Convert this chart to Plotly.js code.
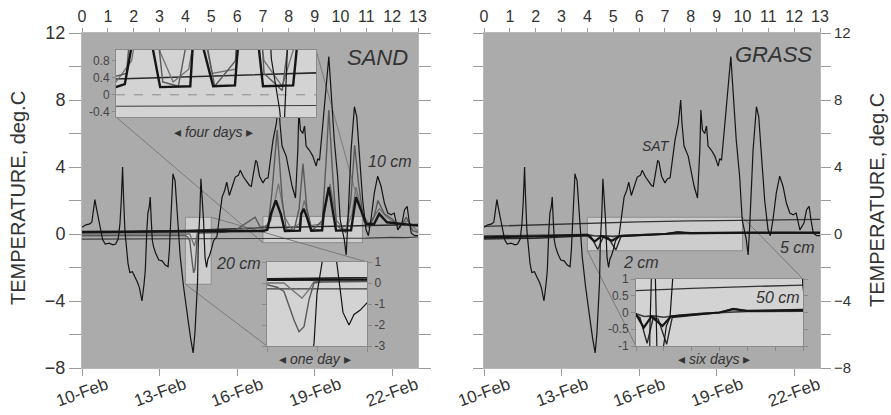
<!DOCTYPE html>
<html><head><meta charset="utf-8">
<script src="https://cdn.plot.ly/plotly-3.0.1.min.js"></script>
<style>html,body{margin:0;padding:0;background:#fff}#chart{width:891px;height:415px}</style>
</head><body><div id="chart"></div>
<script>
// ---------- data (day 0 = 10-Feb) ----------
const satDays = [0.00,0.15,0.30,0.38,0.45,0.50,0.55,0.62,0.72,0.80,0.90,1.05,1.20,1.30,1.40,1.47,1.52,1.57,1.60,1.66,1.78,1.85,1.95,2.05,2.15,2.22,2.32,2.40,2.45,2.51,2.55,2.60,2.64,2.68,2.72,2.77,2.85,2.97,3.10,3.22,3.33,3.38,3.46,3.52,3.55,3.60,3.67,3.80,3.93,4.02,4.10,4.20,4.30,4.37,4.42,4.47,4.50,4.56,4.60,4.64,4.70,4.76,4.82,4.87,4.93,5.00,5.09,5.22,5.31,5.42,5.52,5.60,5.70,5.80,5.93,6.05,6.12,6.25,6.40,6.48,6.55,6.62,6.72,6.77,6.87,7.00,7.10,7.20,7.30,7.39,7.52,7.61,7.66,7.74,7.90,8.03,8.13,8.26,8.35,8.39,8.45,8.54,8.61,8.67,8.80,8.93,9.06,9.12,9.19,9.32,9.45,9.55,9.60,9.66,9.76,9.89,9.99,10.15,10.22,10.28,10.41,10.54,10.63,10.73,10.86,10.99,11.08,11.18,11.31,11.44,11.57,11.70,11.83,11.96,12.08,12.22,12.38,12.48,12.58,12.65,12.74,12.87,13.00];
const satTemp = [0.40,0.55,0.60,0.70,1.50,2.05,1.60,1.10,0.30,-0.35,-0.60,-0.55,-0.65,-0.60,-0.30,0.65,2.00,4.00,2.50,0.20,-1.75,-2.30,-2.25,-2.55,-2.90,-3.20,-4.00,-3.00,-2.15,0.25,1.25,1.60,2.20,0.80,-0.36,-0.77,-1.15,-1.55,-1.60,-1.85,-1.95,-0.96,1.25,3.60,3.40,3.20,1.60,-1.35,-3.15,-4.30,-5.10,-6.20,-7.10,-5.90,-4.00,-2.90,-0.50,1.25,3.30,2.40,0.90,-1.40,-2.00,-1.50,-1.30,-0.95,-0.40,-0.15,0.83,2.20,2.60,3.10,2.30,2.75,3.40,3.50,3.80,3.40,3.05,2.90,2.85,3.60,4.40,4.30,3.45,3.05,3.30,3.35,4.40,5.60,6.60,8.00,6.60,5.25,4.65,3.65,2.85,2.15,5.00,7.40,6.20,6.00,6.45,5.25,5.00,4.65,4.05,4.50,4.40,6.60,9.00,10.60,9.40,8.00,5.60,3.45,0.85,-0.35,-1.25,0.47,5.00,7.60,7.00,4.80,2.00,0.25,-0.10,0.85,2.45,3.45,2.85,1.85,1.25,1.15,1.25,0.25,0.65,1.45,1.65,0.85,0.05,-0.10,-0.10];

// SAND soil temperatures
const sand2Days = [0,4.0,4.1,4.17,4.27,4.32,4.37,4.42,4.47,4.55,5.5,6.0,6.5,6.7,6.9,7.2,7.35,7.55,7.75,7.9,8.2,8.4,8.55,8.7,8.9,9.3,9.45,9.55,9.7,9.85,10.2,10.4,10.55,10.7,10.9,11.1,11.3,11.45,11.7,12.0,12.3,12.55,12.8,13];
const sand2Temp = [-0.1,-0.08,-0.2,-0.4,-1.76,-2.32,-2.08,-0.8,0.0,0.05,0.1,0.3,0.8,1.0,0.4,0.5,2.5,6.2,2.0,0.3,0.2,1.5,4.2,1.5,0.2,0.8,4.5,7.4,3.5,0.5,0.1,2.0,5.3,3.0,0.8,0.4,1.0,2.0,1.2,0.9,0.4,1.0,0.2,0.1];
const sand5Days = [0,4.0,4.17,4.27,4.35,4.42,4.47,5.5,6.5,7.0,7.3,7.6,7.85,8.1,8.4,8.6,8.85,9.3,9.6,9.85,10.2,10.45,10.6,10.85,11.1,11.5,11.8,12.3,12.6,12.9,13];
const sand5Temp = [0.0,0.0,0.0,-0.4,-0.72,-0.32,0.08,0.1,0.4,0.3,0.8,3.0,1.0,0.3,0.6,2.0,0.5,0.6,3.0,0.8,0.2,1.2,2.8,1.2,0.6,1.5,1.0,0.5,0.8,0.3,0.2];
const sand10Days = [0,4,5,7,7.17,7.31,7.5,7.69,7.85,8.43,8.48,8.58,8.68,8.87,9.29,9.35,9.55,9.74,9.83,10.41,10.49,10.6,10.9,11.0,11.3,11.5,11.8,12.5,13];
const sand10Temp = [0.12,0.15,0.17,0.18,0.25,1.2,2.0,1.2,0.18,0.2,1.2,1.5,1.1,0.2,0.22,1.2,2.8,1.2,0.2,0.22,1.2,2.2,1.0,0.6,0.6,1.2,0.7,0.6,0.5];
const sandRiseDays = [0,4,7,11,13];
const sandRiseTemp = [0.08,0.2,0.37,0.52,0.57];
const sandDeepDays = [0,7,11,12,12.5,13];
const sandDeepTemp = [-0.3,-0.27,-0.25,-0.2,-0.22,-0.18];

// GRASS soil temperatures
const grass2Days = [0,2,4,4.14,4.4,4.62,4.8,5.1,5.3,6,7,7.5,8,10,13];
const grass2Temp = [-0.3,-0.25,-0.1,-0.15,-0.92,-0.15,-0.2,-0.95,-0.15,-0.08,0.0,0.12,0.04,0.05,0.06];
const grass5Days = [0,2,4,4.28,4.55,4.95,5.25,6,7,7.5,8,10,13];
const grass5Temp = [-0.2,-0.15,-0.05,-0.45,-0.12,-0.4,-0.12,-0.06,0.0,0.1,0.05,0.08,0.08];
const grass10Days = [0,2,4,4.3,4.6,5,5.5,6.5,8,10,13];
const grass10Temp = [-0.12,-0.1,-0.04,-0.12,-0.1,-0.14,-0.08,-0.02,0.03,0.05,0.05];
const grass50Days = [0,2,4,6,8,10,13];
const grass50Temp = [0.45,0.55,0.65,0.72,0.78,0.82,0.87];

// axes / labels
const dayTicks = [0,3,6,9,12];
const dateLabels = ['10-Feb','13-Feb','16-Feb','19-Feb','22-Feb'];
const topTicks = [0,1,2,3,4,5,6,7,8,9,10,11,12,13];
const yTickVals = [-8,-6,-4,-2,0,2,4,6,8,10,12];
const yTickText = ['−8','','−4','','0','','4','','8','','12'];
const inset1Ticks = [-0.4,0,0.4,0.8];
const inset1Text = ['-0.4','0','0.4','0.8'];
const inset2Ticks = [-3,-2,-1,0,1];
const inset2Text = ['-3','-2','-1','0','1'];
const inset3Ticks = [-1,-0.5,0,0.5,1];
const inset3Text = ['-1','-0.5','0','0.5','1'];
const inset1Range = {x:[7,10.85], y:[-0.52,1.05]};
const inset2Range = {x:[4,5], y:[-3,1]};
const inset3Range = {x:[4,10], y:[-1,1]};

// ---------- geometry ----------
const W = 891, H = 415;
const px = x => x / W;
const py = y => 1 - y / H;
const mainL = [82,418], mainR = [484,820], mainTB = [33,368];
const in1 = {l:116, r:316, t:50, b:117};
const in2 = {l:267, r:367, t:262, b:346};
const in3 = {l:636, r:803, t:279, b:346};

// pixel -> main data coords (for connector lines)
function pixToData(panel, x, y) {
  const d = (x - panel[0]) / (panel[1] - panel[0]) * 13;
  const v = 12 - (y - mainTB[0]) / (mainTB[1] - mainTB[0]) * 20;
  return [d, v];
}

const traces = [];
function addLine(xs, ys, xa, ya, color, width) {
  traces.push({x: xs, y: ys, xaxis: xa, yaxis: ya, type: 'scatter', mode: 'lines',
    line: {color: color, width: width}, hoverinfo: 'skip', showlegend: false});
}
const sandSeries = [
  [sandDeepDays, sandDeepTemp, '#3c3c3c', 1.2],
  [sandRiseDays, sandRiseTemp, '#2a2a2a', 1.6],
  [sand5Days, sand5Temp, '#727272', 1.3],
  [sand2Days, sand2Temp, '#5a5a5a', 1.4],
  [sand10Days, sand10Temp, '#151515', 2.4]
];
const grassSeries = [
  [grass50Days, grass50Temp, '#333333', 1.3],
  [grass10Days, grass10Temp, '#3a3a3a', 1.6],
  [grass2Days, grass2Temp, '#2a2a2a', 1.4],
  [grass5Days, grass5Temp, '#151515', 2.2]
];
const satStyle = ['#141414', 1.2];
[['x','y'],['x3','y3'],['x4','y4']].forEach(([xa,ya]) => {
  sandSeries.forEach(s => addLine(s[0], s[1], xa, ya, s[2], s[3]));
  addLine(satDays, satTemp, xa, ya, satStyle[0], satStyle[1]);
});
[['x2','y2'],['x5','y5']].forEach(([xa,ya]) => {
  grassSeries.forEach(s => addLine(s[0], s[1], xa, ya, s[2], s[3]));
  addLine(satDays, satTemp, xa, ya, satStyle[0], satStyle[1]);
});
// invisible anchors for the top day-number axes
traces.push({x:[0], y:[-100], xaxis:'x6', yaxis:'y', mode:'markers', marker:{opacity:0}, hoverinfo:'skip', showlegend:false});
traces.push({x:[0], y:[-100], xaxis:'x7', yaxis:'y2', mode:'markers', marker:{opacity:0}, hoverinfo:'skip', showlegend:false});

const base = {showgrid:false, zeroline:false, showline:true, linecolor:'#b8b8b8', linewidth:1,
  tickcolor:'#9a9a9a', tickwidth:1, fixedrange:true};
const inBase = {showgrid:false, zeroline:false, showline:true, linecolor:'#8a8a8a', linewidth:1,
  tickcolor:'#8a8a8a', tickwidth:1, fixedrange:true, tickfont:{size:12, color:'#444'}};

const layout = {
  width: W, height: H, margin:{l:0,r:0,t:0,b:0},
  paper_bgcolor:'#ffffff', plot_bgcolor:'#d3d3d3', showlegend:false,
  font:{family:'Liberation Sans, Arial, sans-serif', color:'#333'},
  xaxis: Object.assign({}, base, {domain:[px(mainL[0]),px(mainL[1])], range:[0,13], anchor:'y',
    tickmode:'array', tickvals:dayTicks, showticklabels:false, ticks:'outside', ticklen:7}),
  yaxis: Object.assign({}, base, {domain:[py(mainTB[1]),py(mainTB[0])], range:[-8,12], anchor:'x',
    tickmode:'array', tickvals:yTickVals, ticktext:yTickText, ticks:'outside', ticklen:12, mirror:'ticks',
    tickfont:{size:18, color:'#333'}}),
  xaxis6: Object.assign({}, base, {overlaying:'x', side:'top', anchor:'y', range:[0,13],
    tickmode:'array', tickvals:topTicks, ticks:'outside', ticklen:4, tickfont:{size:16, color:'#333'}}),
  xaxis2: Object.assign({}, base, {domain:[px(mainR[0]),px(mainR[1])], range:[0,13], anchor:'y2',
    tickmode:'array', tickvals:dayTicks, showticklabels:false, ticks:'outside', ticklen:7}),
  yaxis2: Object.assign({}, base, {domain:[py(mainTB[1]),py(mainTB[0])], range:[-8,12], anchor:'x2', side:'right',
    tickmode:'array', tickvals:yTickVals, ticktext:yTickText, ticks:'outside', ticklen:10, mirror:'ticks',
    tickfont:{size:15, color:'#333'}}),
  xaxis7: Object.assign({}, base, {overlaying:'x2', side:'top', anchor:'y2', range:[0,13],
    tickmode:'array', tickvals:topTicks, ticks:'outside', ticklen:4, tickfont:{size:16, color:'#333'}}),
  xaxis3: Object.assign({}, inBase, {domain:[px(in1.l),px(in1.r)], range:inset1Range.x, anchor:'y3',
    showticklabels:false, ticks:'', mirror:true}),
  yaxis3: Object.assign({}, inBase, {domain:[py(in1.b),py(in1.t)], range:inset1Range.y, anchor:'x3',
    tickmode:'array', tickvals:inset1Ticks, ticktext:inset1Text, ticks:'outside', ticklen:3, mirror:true}),
  xaxis4: Object.assign({}, inBase, {domain:[px(in2.l),px(in2.r)], range:inset2Range.x, anchor:'y4',
    tickmode:'array', tickvals:[4,4.5,5], showticklabels:false, ticks:'outside', ticklen:5, mirror:true}),
  yaxis4: Object.assign({}, inBase, {domain:[py(in2.b),py(in2.t)], range:inset2Range.y, anchor:'x4', side:'right',
    tickmode:'array', tickvals:inset2Ticks, ticktext:inset2Text, ticks:'outside', ticklen:4, mirror:'ticks'}),
  xaxis5: Object.assign({}, inBase, {domain:[px(in3.l),px(in3.r)], range:inset3Range.x, anchor:'y5',
    dtick:1, showticklabels:false, ticks:'outside', ticklen:4, mirror:true}),
  yaxis5: Object.assign({}, inBase, {domain:[py(in3.b),py(in3.t)], range:inset3Range.y, anchor:'x5',
    tickmode:'array', tickvals:inset3Ticks, ticktext:inset3Text, ticks:'outside', ticklen:4, mirror:'ticks'}),
  shapes: [],
  annotations: []
};

// main backgrounds (dark gray) and zoom rectangles
const mainBg = '#ababab', rectFill = '#cdcdcd', frame = '#8c8c8c', conn = '#7a7a7a';
[['x','y'],['x2','y2']].forEach(([xa,ya]) => layout.shapes.push({type:'rect', xref:xa, yref:ya, x0:0, x1:13, y0:-8, y1:12,
  fillcolor:mainBg, line:{width:0}, layer:'below'}));
[[inset1Range,'x','y'],[inset2Range,'x','y'],[inset3Range,'x2','y2']].forEach(([r,xa,ya]) =>
  layout.shapes.push({type:'rect', xref:xa, yref:ya, x0:r.x[0], x1:r.x[1], y0:r.y[0], y1:r.y[1],
    fillcolor:rectFill, line:{color:frame, width:1}, layer:'below'}));
layout.shapes.push({type:'line', xref:'x3', yref:'y3', x0:inset1Range.x[0], x1:inset1Range.x[1], y0:0, y1:0,
  line:{color:'#8a8a8a', width:1, dash:'dash'}, layer:'below'});
// connector lines (main data coords)
function connector(panel, xa, ya, d, v, pxX, pxY) {
  const p = pixToData(panel, pxX, pxY);
  layout.shapes.push({type:'line', xref:xa, yref:ya, x0:d, y0:v, x1:p[0], y1:p[1],
    line:{color:conn, width:1}, layer:'below'});
}
connector(mainL,'x','y', inset1Range.x[0], inset1Range.y[0], in1.l, in1.b);
connector(mainL,'x','y', inset1Range.x[1], inset1Range.y[1], in1.r, in1.t);
connector(mainL,'x','y', inset2Range.x[1], inset2Range.y[1], in2.r, in2.t);
connector(mainL,'x','y', inset2Range.x[0], inset2Range.y[0], in2.l, in2.b);
connector(mainR,'x2','y2', inset3Range.x[0], inset3Range.y[0], in3.l, in3.b);
connector(mainR,'x2','y2', inset3Range.x[1], inset3Range.y[1], in3.r, in3.t);

// date tick labels (rotated, centred on ticks)
['x','x2'].forEach(xa => dayTicks.forEach((d,i) => layout.annotations.push({
  xref:xa, yref:'paper', x:d, y:py(392), text:dateLabels[i], showarrow:false, textangle:-20,
  xanchor:'center', yanchor:'middle', font:{size:17, color:'#333'}})));

function note(x, y, text, size, extra) {
  layout.annotations.push(Object.assign({xref:'paper', yref:'paper', x:px(x), y:py(y), text:text, showarrow:false,
    xanchor:'center', yanchor:'middle', font:{size:size, color:'#333'}}, extra || {}));
}
note(18, 198, 'TEMPERATURE, deg.C', 20, {textangle:-90});
note(877, 200, 'TEMPERATURE, deg.C', 20, {textangle:-90});
note(377, 58, '<i>SAND</i>', 22);
note(773, 54, '<i>GRASS</i>', 22);
note(390, 161, '<i>10 cm</i>', 16);
note(238, 263, '<i>20 cm</i>', 16);
note(656, 146, '<i>SAT</i>', 14);
note(797, 247, '<i>5 cm</i>', 16);
note(641, 262, '<i>2 cm</i>', 16);
note(778, 297, '<i>50 cm</i>', 16);
note(213, 132, '◂ <i>four days</i> ▸', 14);
note(315, 359, '◂ <i>one day</i> ▸', 14);
note(714, 359, '◂ <i>six days</i> ▸', 14);

Plotly.newPlot('chart', traces, layout, {staticPlot:true, displayModeBar:false});
</script>
</body></html>
